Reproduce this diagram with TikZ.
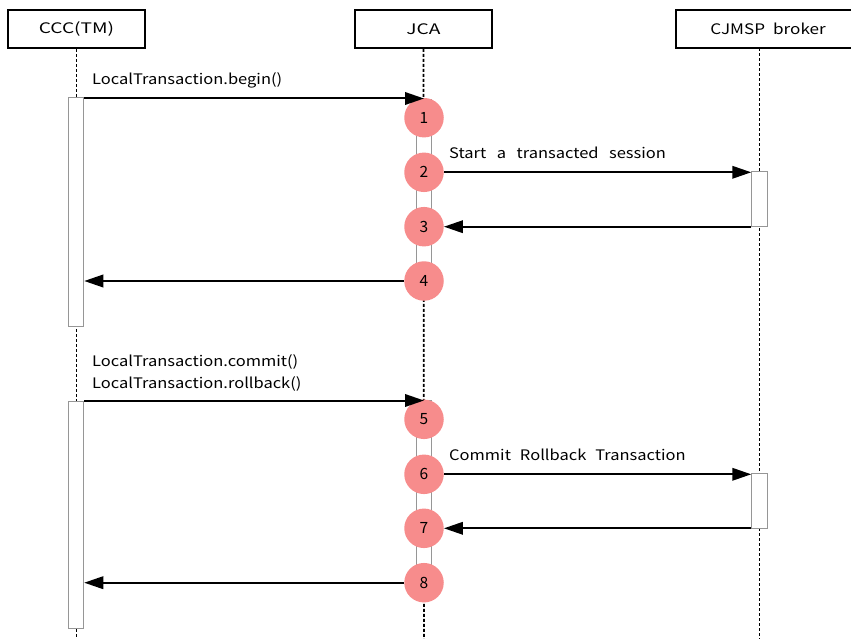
\documentclass[tikz,border=0pt]{standalone}
\usepackage{fontspec}
\setmainfont{Noto Sans CJK JP}
\newfontfamily\msgfont[FakeStretch=1.137]{Noto Sans CJK JP}
\newfontfamily\headfont[FakeStretch=1.32]{Noto Sans CJK JP}
\newfontfamily\brokerfont[FakeStretch=1.18]{Noto Sans CJK JP}
\usetikzlibrary{arrows.meta}
\definecolor{stepfill}{RGB}{247,140,140}
\definecolor{bargray}{RGB}{150,150,150}
\begin{document}
\begin{tikzpicture}[x=1pt,y=-1pt,
  actor/.style={draw=black,line width=1.8pt,fill=white,minimum height=38pt,inner sep=0pt,font=\headfont\fontsize{14.5}{16}\selectfont},
  lifeline/.style={draw=black,line width=1.8pt,dash pattern=on 3pt off 2pt},
  actbar/.style={draw=bargray,line width=1pt,fill=white,minimum width=15.5pt,inner sep=0pt},
  stepdot/.style={circle,fill=stepfill,draw=none,minimum size=39.5pt,inner sep=0pt,font=\fontsize{15.5}{17}\selectfont},
  msg/.style={draw=black,line width=2pt,-{Triangle[length=19pt,width=12.5pt]}},
  lbl/.style={anchor=base west,inner sep=0pt,font=\msgfont\fontsize{14.5}{16}\selectfont}]
\useasboundingbox (0,0) rectangle (851,639);
\clip (0,0) rectangle (851,639);

% participants
\node[actor,minimum width=137pt] (ccc) at (76.5,29) {CCC(TM)};
\node[actor,minimum width=137pt] (jca) at (423.5,29) {JCA};
\node[actor,minimum width=184pt,font=\brokerfont\fontsize{14.5}{16}\selectfont] (broker) at (768,29) {CJMSP\hspace{8pt}broker};

% lifelines
\coordinate (cccEnd) at (76.5,645);
\coordinate (jcaEnd) at (424,645);
\coordinate (brokerTop) at (759.5,48);
\coordinate (brokerEnd) at (759.5,645);
\draw[lifeline] (ccc.south) -- (cccEnd);
\draw[lifeline] (jca.south) -- (jcaEnd);
\draw[lifeline] (brokerTop) -- (brokerEnd);

% activation bars
\node[actbar,minimum height=228pt] (abar1) at (76,212) {};
\node[actbar,minimum height=227pt] (abar2) at (76,514.5) {};
\node[actbar,minimum height=183pt] (jbar1) at (424,191) {};
\node[actbar,minimum height=183pt] (jbar2) at (424,492) {};
\node[actbar,minimum height=54.5pt] (bbar1) at (759.5,199.2) {};
\node[actbar,minimum height=54.5pt] (bbar2) at (759.5,501.2) {};

% numbered steps
\node[stepdot] (c1) at (424,117.7) {1};
\node[stepdot] (c2) at (424,172.3) {2};
\node[stepdot] (c3) at (424,226.7) {3};
\node[stepdot] (c4) at (424,281) {4};
\node[stepdot] (c5) at (424,419.3) {5};
\node[stepdot] (c6) at (424,474.3) {6};
\node[stepdot] (c7) at (424,528.3) {7};
\node[stepdot] (c8) at (424,582.7) {8};

% messages
\coordinate (jcaIn1) at (424,98.5);
\coordinate (jcaIn2) at (424,400.5);
\draw[msg] (abar1.east |- jcaIn1) -- (jcaIn1);
\draw[msg] (c2.east) -- (bbar1.west |- c2);
\draw[msg] (bbar1.west |- c3) -- (c3.east);
\draw[msg] (c4.west) -- (abar1.east |- c4);
\draw[msg] (abar2.east |- jcaIn2) -- (jcaIn2);
\draw[msg] (c6.east) -- (bbar2.west |- c6);
\draw[msg] (bbar2.west |- c7) -- (c7.east);
\draw[msg] (c8.west) -- (abar2.east |- c8);

% message labels
\node[lbl] (t1) at (92,85) {LocalTransaction.begin()};
\node[lbl] (t2) at (449,158.5) {Start\hspace{10.5pt}a\hspace{10.5pt}transacted\hspace{10.5pt}session};
\node[lbl] (t3) at (92,366.5) {LocalTransaction.commit()};
\node[lbl] (t4) at (92,388) {LocalTransaction.rollback()};
\node[lbl] (t5) at (449,460.5) {Commit\hspace{9pt}Rollback\hspace{9pt}Transaction};
\end{tikzpicture}
\end{document}
